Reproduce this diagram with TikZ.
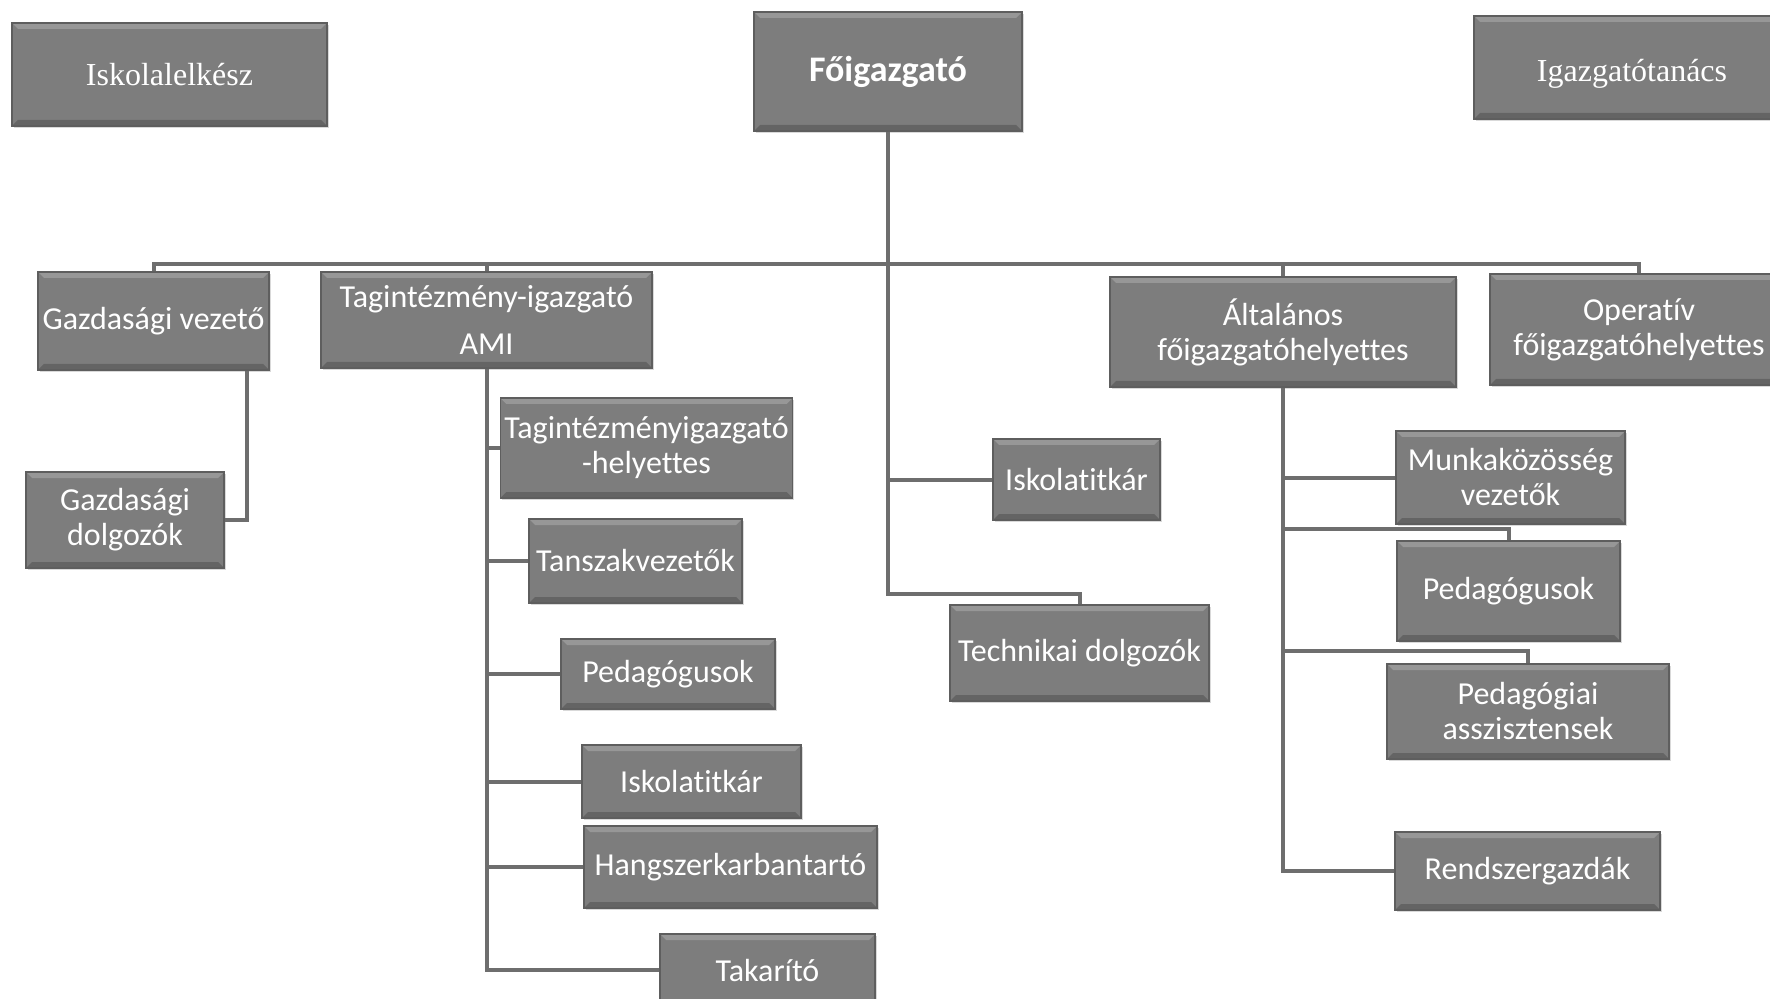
\documentclass[tikz,border=0pt]{standalone}
\usepackage{fontspec}
\setmainfont{Carlito}[Ligatures=NoCommon]
\newfontfamily\serifbox{Liberation Serif}
\usetikzlibrary{shadows, calc, positioning}
\definecolor{boxgray}{HTML}{7D7D7D}
\definecolor{linegray}{HTML}{6E6E6E}
\tikzset{
    orgbox/.style n args={2}{
        draw=boxgray!75!black, fill=boxgray, line width=0.6pt,
        text=white, align=center, inner sep=2pt,
        minimum width=#1*0.5pt, minimum height=#2*0.5pt,
        font=\fontsize{16}{17.5}\selectfont,
        drop shadow={shadow xshift=0.8pt, shadow yshift=-1.2pt, opacity=0.3},
        path picture={
            \fill[white, opacity=0.2] (path picture bounding box.north west) -- (path picture bounding box.north east)
                -- ([shift={(-3pt,-3pt)}]path picture bounding box.north east) -- ([shift={(3pt,-3pt)}]path picture bounding box.north west) -- cycle;
            \fill[black, opacity=0.2] (path picture bounding box.south west) -- (path picture bounding box.south east)
                -- ([shift={(-3pt,3pt)}]path picture bounding box.south east) -- ([shift={(3pt,3pt)}]path picture bounding box.south west) -- cycle;
        }
    },
    link/.style={draw=linegray, line width=2pt}
}

\begin{document}
\begin{tikzpicture}[x=0.5pt, y=-0.5pt]
    \useasboundingbox (0,0) rectangle (1770,999);
    % top row
    \node[orgbox={315}{103}, font=\serifbox\fontsize{16}{19}\selectfont] (isk) at (169.5,74.5) {Iskolalelkész};
    \node[orgbox={268}{119}, font=\bfseries\fontsize{18}{20}\selectfont] (foig) at (888,71.5) {Főigazgató};
    \node[orgbox={316}{103}, font=\serifbox\fontsize{16}{19}\selectfont, text height=17pt] (igt) at (1632,67.5) {Igazgatótanács};
    % second row
    \node[orgbox={231}{98}] (gv) at (153.5,321) {Gazdasági vezető};
    \node[orgbox={331}{96}] (tag) at (486.5,320) {Tagintézmény-igazgató\\[6pt]AMI};
    \node[orgbox={346}{110}] (alt) at (1283,332) {Általános\\főigazgatóhelyettes};
    \node[orgbox={298}{111}] (op) at (1639,329.5) {Operatív\\főigazgatóhelyettes};
    % below
    \node[orgbox={198}{96}] (gd) at (125,520) {Gazdasági\\dolgozók};
    \node[orgbox={289}{100}] (th) at (646.5,448) {Tagintézményigazgató\\-helyettes};
    \node[orgbox={213}{84}] (tsz) at (635.5,561) {Tanszakvezetők};
    \node[orgbox={214}{70}] (ped1) at (668,674) {Pedagógusok};
    \node[orgbox={219}{73}] (it1) at (691.5,781.5) {Iskolatitkár};
    \node[orgbox={293}{82}] (hk) at (730.5,867) {Hangszerkarbantartó};
    \node[orgbox={215}{72}] (tak) at (767.5,970) {Takarító};
    \node[orgbox={167}{81}] (it2) at (1076.5,479.5) {Iskolatitkár};
    \node[orgbox={259}{96}] (tech) at (1079.5,653) {Technikai dolgozók};
    \node[orgbox={229}{93}] (mk) at (1510.5,477.5) {Munkaközösség\\vezetők};
    \node[orgbox={223}{100}] (ped2) at (1508.5,591) {Pedagógusok};
    \node[orgbox={282}{95}] (pa) at (1528,711.5) {Pedagógiai\\asszisztensek};
    \node[orgbox={265}{78}] (rg) at (1527.5,871) {Rendszergazdák};

    \coordinate (bus) at ($(foig.south)+(0,132)$);
    \begin{scope}[link]
    \draw (foig.south) |- (it2.west);
    \draw (foig.south) |- ($(tech.north)+(0,-10)$) -| (tech.north);
    \draw (bus) -| (gv.north);
    \draw (bus) -| (tag.north);
    \draw (bus) -| (alt.north);
    \draw (bus) -| (op.north);
    \draw ($(gv.south east)+(-23,0)$) |- (gd.east);
    \foreach \b in {th, tsz, ped1, it1, hk, tak}
        \draw (tag.south) |- (\b.west);
    \draw (alt.south) |- (mk.west);
    \draw (alt.south) |- ($(ped2.north)+(0,-11)$) -| (ped2.north);
    \draw (alt.south) |- ($(pa.north)+(0,-12)$) -| (pa.north);
    \draw (alt.south) |- (rg.west);
    \end{scope}
\end{tikzpicture}
\end{document}
